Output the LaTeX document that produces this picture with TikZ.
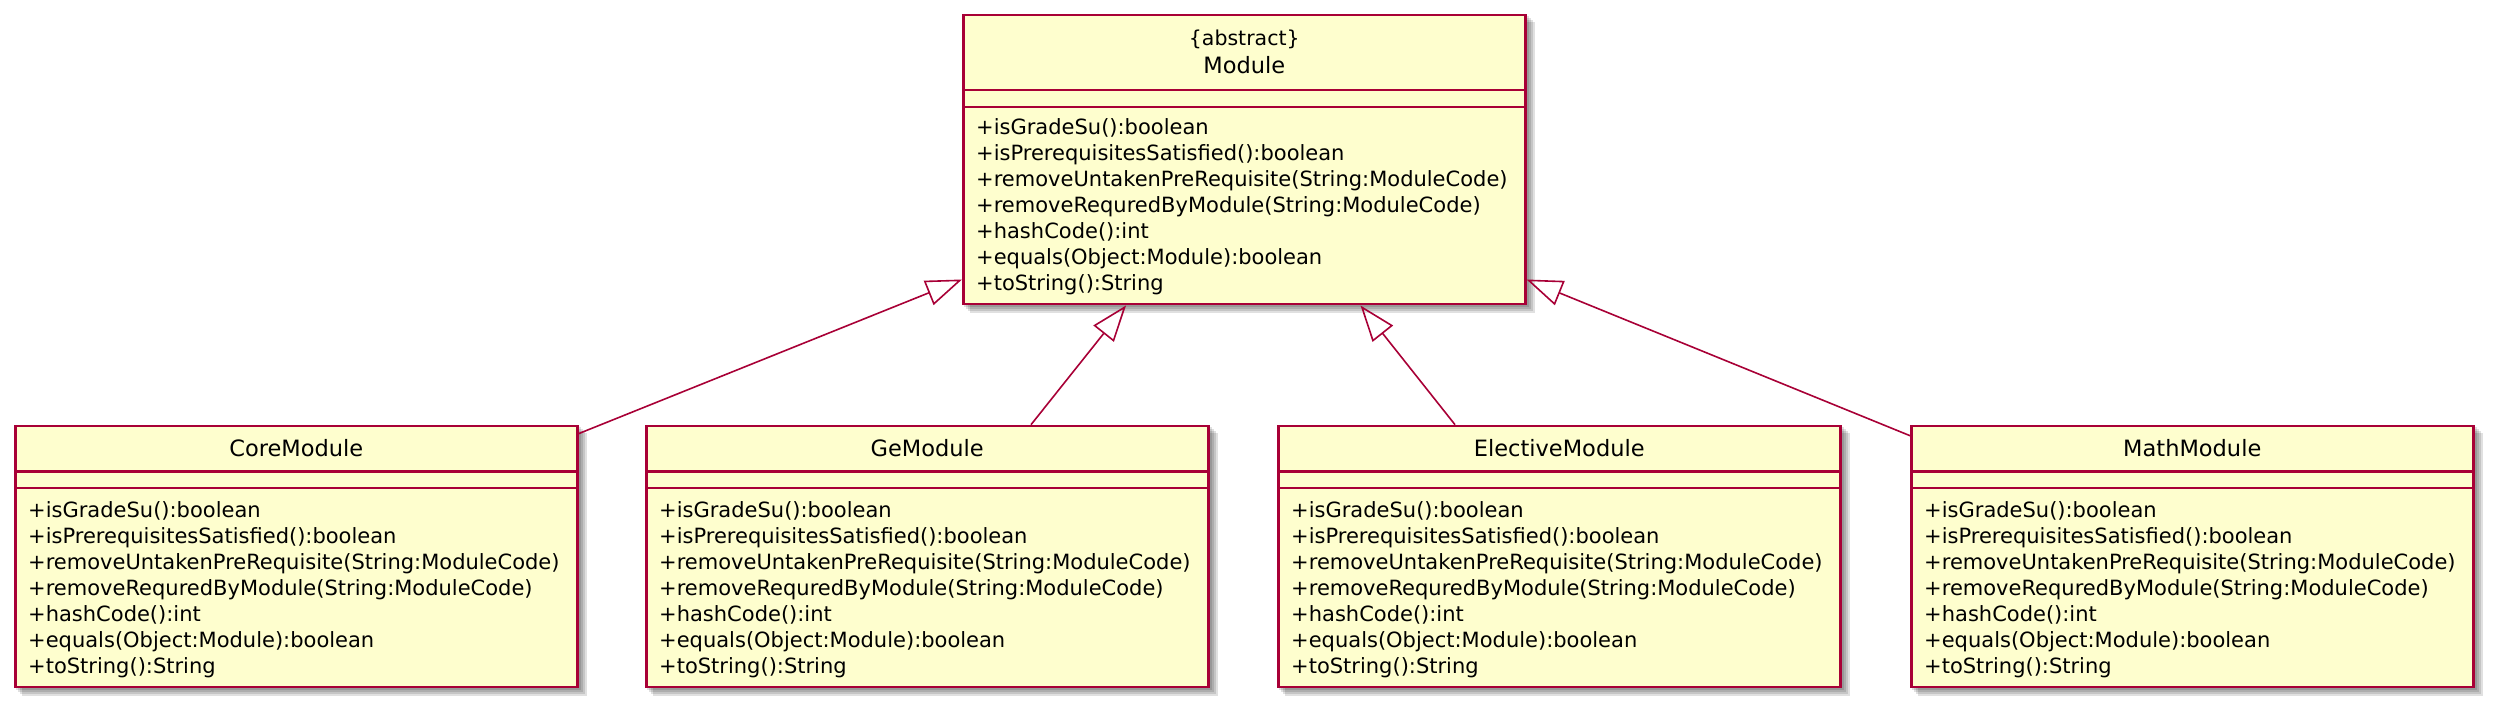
\documentclass[tikz,border=0pt]{standalone}
\usepackage{fontspec}
\setmainfont{DejaVu Sans}
\usetikzlibrary{arrows.meta,backgrounds}
\definecolor{umlred}{HTML}{A80036}
\definecolor{umlfill}{HTML}{FEFECE}
\newcommand{\MethodList}{+isGradeSu():boolean,%
+isPrerequisitesSatisfied():boolean,%
+removeUntakenPreRequisite(String:ModuleCode),%
+removeRequredByModule(String:ModuleCode),%
+hashCode():int,%
+equals(Object:Module):boolean,%
+toString():String}
% #1 node name, #2 left x, #3 first baseline y
\newcommand{\DrawMethods}[3]{%
  \foreach \t [count=\i] in \MethodList {%
    \node[meth] (#1-m\i) at (#2,{#3+26*(\i-1)}) {\t};
  }%
}
\newcommand{\DrawShadow}[1]{%
  \begin{pgfonlayer}{background}
    \foreach \s in {2,4,6,8} {%
      \fill[shadowc] ([shift={(\s,\s)}]#1.north west) rectangle ([shift={(\s,\s)}]#1.south east);
    }
  \end{pgfonlayer}%
}
% child class: #1 id, #2 left x, #3 title
\newcommand{\ChildClass}[3]{%
  \node[classbox, minimum height=261pt] (#1) at (#2,424.7) {};
  \DrawShadow{#1}
  \draw[divider] ([shift={(0,47)}]#1.north west) -- ([shift={(0,47)}]#1.north east);
  \draw[divider] ([shift={(0,63.5)}]#1.north west) -- ([shift={(0,63.5)}]#1.north east);
  \node[cname] (#1-name) at ([shift={(0,32)}]#1.north) {#3};
  \DrawMethods{#1}{#2+14}{517}
}
\begin{document}
\begin{tikzpicture}[x=1pt,y=-1pt,
  classbox/.style={rectangle, draw=umlred, line width=2.5pt, fill=umlfill,
    anchor=north west, inner sep=0pt, minimum width=562pt},
  divider/.style={draw=umlred, line width=2.5pt},
  shadowc/.style={fill=black, opacity=0.12},
  meth/.style={anchor=base west, inner sep=0pt, font=\fontsize{21}{26}\selectfont},
  cname/.style={anchor=base, inner sep=0pt, font=\fontsize{22.5}{27}\selectfont},
  stereo/.style={anchor=base, inner sep=0pt, font=\fontsize{20.5}{25}\selectfont},
  ext/.style={draw=umlred, line width=1.6pt, -{Triangle[open, length=36pt, width=26pt]}}
]
\useasboundingbox (0,0) rectangle (2498,711);

% abstract superclass
\node[classbox, minimum height=289pt] (module) at (962,14) {};
\DrawShadow{module}
\draw[divider] ([shift={(0,76)}]module.north west) -- ([shift={(0,76)}]module.north east);
\draw[divider] ([shift={(0,93)}]module.north west) -- ([shift={(0,93)}]module.north east);
\node[stereo] (module-stereo) at ([shift={(0,32)}]module.north) {\{abstract\}};
\node[cname] (module-name) at ([shift={(0,60)}]module.north) {Module};
\DrawMethods{module}{976}{134.5}

% subclasses
\ChildClass{core}{14}{CoreModule}
\ChildClass{ge}{645}{GeModule}
\ChildClass{elective}{1277}{ElectiveModule}
\ChildClass{math}{1910}{MathModule}

% generalisation connectors
\draw[ext] ([shift={(0,9)}]core.north east) -- ([shift={(0,-26)}]module.south west);
\draw[ext] ([shift={(386,0)}]ge.north west) -- ([shift={(164,0)}]module.south west);
\draw[ext] ([shift={(178,0)}]elective.north west) -- ([shift={(-166,0)}]module.south east);
\draw[ext] ([shift={(0,11)}]math.north west) -- ([shift={(0,-26)}]module.south east);
\end{tikzpicture}
\end{document}
